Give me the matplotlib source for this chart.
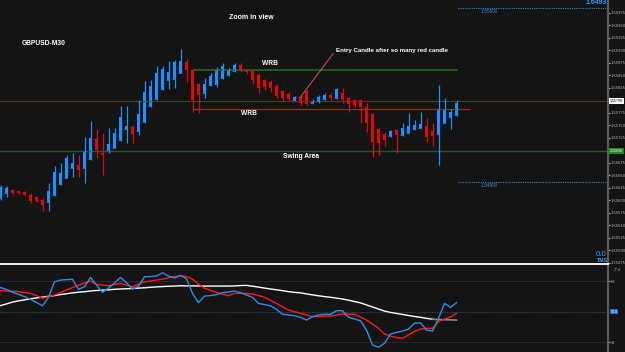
import numpy as np
import matplotlib.pyplot as plt
from matplotlib.lines import Line2D

# GBPUSD M30 bars, prices in points (1e-5)
opens = [155604, 155614, 155620, 155618, 155616, 155610, 155606, 155600, 155596, 155610,
         155632, 155644, 155664, 155670, 155664, 155682, 155722, 155694, 155700, 155704,
         155720, 155742, 155746, 155738, 155756, 155788, 155802, 155822, 155840, 155842,
         155854, 155876, 155860, 155832, 155814, 155830, 155832, 155844, 155850, 155858,
         155870, 155860, 155858, 155850, 155840, 155836, 155828, 155818, 155812, 155800,
         155806, 155818, 155794, 155798, 155802, 155810, 155804, 155814, 155804, 155800,
         155800, 155786, 155772, 155742, 155732, 155728, 155740, 155730, 155734, 155742,
         155744, 155748, 155738, 155732, 155754, 155766, 155770]
highs = [155630, 155628, 155622, 155620, 155618, 155614, 155608, 155604, 155634, 155668,
         155674, 155690, 155694, 155690, 155726, 155758, 155742, 155734, 155744, 155744,
         155788, 155788, 155750, 155800, 155838, 155840, 155868, 155868, 155878, 155880,
         155902, 155882, 155864, 155834, 155844, 155854, 155866, 155874, 155864, 155874,
         155874, 155862, 155860, 155854, 155842, 155840, 155832, 155820, 155816, 155808,
         155810, 155822, 155802, 155810, 155814, 155814, 155824, 155824, 155806, 155802,
         155802, 155794, 155774, 155744, 155736, 155740, 155742, 155754, 155774, 155760,
         155776, 155764, 155754, 155830, 155804, 155782, 155800]
lows = [155600, 155606, 155610, 155612, 155608, 155594, 155596, 155578, 155578, 155608,
        155630, 155644, 155646, 155646, 155634, 155680, 155684, 155650, 155694, 155704,
        155718, 155714, 155714, 155730, 155754, 155786, 155800, 155820, 155822, 155824,
        155854, 155836, 155776, 155774, 155804, 155828, 155826, 155842, 155848, 155856,
        155856, 155852, 155832, 155814, 155820, 155816, 155804, 155796, 155798, 155798,
        155790, 155790, 155792, 155794, 155800, 155800, 155802, 155794, 155776, 155786,
        155754, 155736, 155686, 155690, 155708, 155726, 155694, 155728, 155734, 155740,
        155744, 155716, 155708, 155670, 155754, 155742, 155768]
closes = [155626, 155624, 155614, 155614, 155610, 155598, 155598, 155590, 155618, 155656,
          155654, 155684, 155674, 155660, 155696, 155724, 155700, 155690, 155712, 155734,
          155766, 155748, 155732, 155772, 155816, 155828, 155854, 155862, 155856, 155876,
          155878, 155860, 155800, 155810, 155832, 155848, 155860, 155868, 155860, 155870,
          155860, 155856, 155840, 155824, 155826, 155824, 155808, 155804, 155802, 155806,
          155794, 155792, 155798, 155806, 155810, 155804, 155822, 155802, 155792, 155790,
          155786, 155754, 155716, 155714, 155720, 155738, 155730, 155744, 155748, 155750,
          155752, 155726, 155728, 155780, 155780, 155776, 155794]

# oscillator panel
osc_fast = [64.2, 63.1, 61.4, 60.2, 58.9, 57.3, 55.4, 53.5, 58.5, 67.6,
            68.6, 68.9, 69.1, 63.2, 64.7, 70.2, 65.7, 61.4, 63.9, 66.9,
            70.2, 67.1, 63.2, 65.1, 70.6, 70.7, 71.0, 72.9, 71.0, 69.8,
            71.4, 69.4, 60.8, 55.3, 59.2, 59.5, 60.1, 61.2, 61.6, 62.2,
            61.2, 59.8, 58.5, 54.9, 54.2, 53.5, 51.4, 48.5, 48.1, 47.6,
            46.7, 45.1, 47.1, 48.1, 48.5, 48.5, 50.6, 50.6, 46.7, 45.7,
            44.7, 39.2, 30.4, 29.1, 31.4, 36.9, 37.8, 38.6, 39.8, 43.2,
            43.5, 39.2, 38.6, 46.1, 54.9, 52.6, 55.3]
osc_signal = [62.4, 62.2, 62.0, 61.8, 61.3, 60.8, 59.5, 57.9, 58.9, 59.8,
              61.3, 62.8, 64.2, 65.7, 66.9, 68.1, 66.1, 65.7, 65.3, 66.0,
              66.7, 65.7, 64.7, 66.3, 67.6, 68.1, 68.6, 69.2, 70.0, 70.6,
              71.2, 70.7, 69.2, 66.3, 63.8, 62.6, 61.4, 60.4, 59.4, 60.8,
              60.8, 60.8, 60.4, 59.5, 58.5, 56.7, 54.9, 52.9, 51.0, 50.0,
              49.1, 48.1, 47.1, 47.2, 47.4, 47.5, 48.1, 48.6, 48.5, 48.5,
              46.9, 45.1, 42.8, 40.2, 36.9, 35.7, 34.8, 34.4, 36.3, 38.4,
              39.8, 40.2, 40.2, 44.1, 45.7, 46.9, 49.1]
osc_slow = [53.6, 54.6, 55.7, 56.4, 57.0, 57.6, 58.1, 58.6, 59.1, 59.5,
            60.1, 60.6, 61.1, 61.5, 61.8, 62.2, 62.5, 62.7, 62.9, 63.2,
            63.4, 63.5, 63.7, 63.9, 64.1, 64.4, 64.6, 64.8, 65.0, 65.1,
            65.3, 65.2, 65.2, 65.2, 65.1, 65.1, 65.1, 65.1, 65.1, 65.2,
            65.4, 65.5, 65.0, 64.5, 63.9, 63.4, 62.9, 62.4, 61.8, 61.4,
            61.1, 60.5, 59.9, 59.4, 58.9, 58.5, 58.0, 57.5, 56.8, 56.0,
            55.2, 54.0, 52.8, 51.6, 50.4, 49.6, 49.0, 48.4, 47.8, 47.2,
            46.7, 46.1, 45.6, 45.4, 45.3, 45.2, 45.1]

# levels
bid = 1.55798
swing_level = 1.55698
wrb_high = 1.55860
wrb_low = 1.55782
wrb_bar = 32
entry_bar = 50
upper_target = 1.55984
lower_target = 1.55636
osc_levels = [68, 50, 32]

BG = '#141414'
BLUE = '#1e90ff'
RED = '#e00808'
FONT = 'Liberation Sans'
TICK_FS = 2.6

o = np.array(opens) / 1e5
h = np.array(highs) / 1e5
l = np.array(lows) / 1e5
c = np.array(closes) / 1e5
x = np.arange(len(o))
col = np.where(c >= o, BLUE, RED)

fig = plt.figure(figsize=(6.25, 3.52), dpi=100, facecolor=BG)
ax = fig.add_axes([0, 89 / 352, 608 / 625, 263 / 352])
ax2 = fig.add_axes([0, 0, 608 / 625, 87 / 352])

for a in (ax, ax2):
    a.set_facecolor(BG)
    for s in ('top', 'left', 'bottom'):
        a.spines[s].set_visible(False)
    a.spines['right'].set_color('#5a5a5a')
    a.spines['right'].set_linewidth(1.6)
    a.set_xlim(-0.5 / 6, 607.5 / 6)
    a.set_xticks([])
    a.yaxis.tick_right()
    a.tick_params(axis='y', colors='#b8b8b8', labelsize=TICK_FS, length=1.2,
                  width=0.8, pad=1.0)

ax.set_ylim(1.56 - 263 * 0.00002, 1.56)
ticks = 1.55975 - 0.00025 * np.arange(21)
ax.set_yticks(ticks)
# ticks behind the bid / swing boxes stay unlabeled
ax.set_yticklabels(['' if min(abs(t - bid), abs(t - swing_level)) < 0.0001
                    else f'{t:.5f}' for t in ticks])

# horizontal levels
ax.axhline(bid, color='#8a1c1c', lw=0.8)
ax.axhline(swing_level, color='#1d5e1d', lw=1.0)
ax.hlines(wrb_high, wrb_bar, len(o) - 0.75, color='#1f6b1f', lw=1.2)
ax.hlines(wrb_low, wrb_bar, len(o) + 1.2, color='#d01010', lw=0.9)
ax.hlines([upper_target, lower_target], len(o) - 0.75, 101.3,
          color='#2d7fd0', lw=0.8, linestyles=(0, (1, 1)))

# candles
ax.vlines(x, l, h, colors=col, lw=0.9)
body = np.maximum(np.abs(c - o), 0.00002)
ax.bar(x, body, bottom=np.minimum(o, c), width=0.45, color=col, linewidth=0)
ax.hlines(o, x - 0.45, x, colors=col, lw=0.7, alpha=0.8)

txt = dict(color='white', fontsize=4.8, fontweight='bold', family=FONT)
ax.text(0.413, 0.932, 'Zoom in view', transform=ax.transAxes, ha='center',
        va='center', **{**txt, 'fontsize': 5})
ax.text(0.036, 0.836, 'GBPUSD-M30', transform=ax.transAxes, ha='left',
        va='center', **txt)
ax.text(44.9, 1.55874, 'WRB', ha='center', va='center', **txt)
ax.text(41.4, 1.55774, 'WRB', ha='center', va='center', **txt)
ax.text(50.1, 1.55688, 'Swing Area', ha='center', va='center', **txt)
ax.annotate('Entry Candle after so many red candle',
            xy=(entry_bar, h[entry_bar] - 0.00004), xytext=(55.9, 1.55900),
            ha='left', va='center', **{**txt, 'fontsize': 4.4},
            arrowprops=dict(arrowstyle='-', color='#e05050', lw=0.7,
                            shrinkA=0, shrinkB=0, relpos=(0, 0.5)))
ax.text(80, upper_target - 0.00006, '1.55900', color='#3a8fd8', fontsize=3.4,
        family=FONT, ha='left', va='center')
ax.text(80, lower_target - 0.00006, '1.54900', color='#3a8fd8', fontsize=3.4,
        family=FONT, ha='left', va='center')

# price boxes on the scale
ax.text(1.003, bid, f'{bid:.5f}', transform=ax.get_yaxis_transform(),
        ha='left', va='center', fontsize=TICK_FS, color='black', family=FONT,
        bbox=dict(boxstyle='square,pad=0.2', fc='white', ec='none'))
ax.text(1.003, swing_level, f'{swing_level:.5f}', transform=ax.get_yaxis_transform(),
        ha='left', va='center', fontsize=TICK_FS, color='white', family=FONT,
        bbox=dict(boxstyle='square,pad=0.2', fc='#1f8a1f', ec='none'))

# oscillator
ax2.set_ylim(26.3, 77.5)
ax2.set_yticks([68, 32])
ax2.set_yticklabels(['68', '32'])
ax2.hlines([osc_levels[0], osc_levels[2]], -1, 102, color='#3c3c3c', lw=0.7,
           linestyles=(0, (1, 1)))
ax2.hlines(osc_levels[1], -1, 102, color='#2a4a6e', lw=0.9, linestyles=(0, (1, 1)))
ax2.plot(x[:73], osc_slow[:73], color='white', lw=1.0)
ax2.plot(x[72:], osc_slow[72:], color='#8a8a8a', lw=1.2)
ax2.plot(x, osc_signal, color='#ff1a1a', lw=1.0)
ax2.plot(x, osc_fast, color='#2a8ee8', lw=1.0)
ax2.text(1.004, osc_levels[1], '50.0', transform=ax2.get_yaxis_transform(),
         ha='left', va='center', fontsize=TICK_FS, color='white', family=FONT,
         bbox=dict(boxstyle='square,pad=0.2', fc='#1e6fd0', ec='none'))
ax2.text(1.01, 0.97, '77.4', transform=ax2.transAxes, ha='left', va='top',
         fontsize=TICK_FS, color='#b8b8b8', family=FONT)

# separator and corner labels
fig.add_artist(Line2D([0, 608 / 625], [0.25, 0.25], color='white', lw=1.3))
fig.text(607 / 625, (352 - 2.5) / 352, '1.6493', color='#29a3ff', fontsize=5,
         fontweight='bold', family=FONT, ha='right', va='center')
fig.text(607 / 625, (352 - 255) / 352, '0.0', color='#29a3ff', fontsize=5.7,
         family=FONT, ha='right', va='center')
fig.text(608 / 625, (352 - 261) / 352, 'TMS', color='#29a3ff', fontsize=3.8,
         fontweight='bold', family=FONT, ha='right', va='center')

fig.savefig('out.png', dpi=100, facecolor=BG)
